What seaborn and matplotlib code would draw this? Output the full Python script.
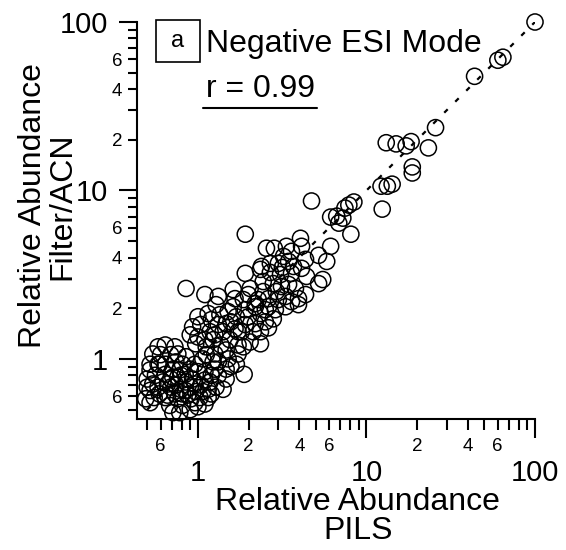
import numpy as np
import pandas as pd
import seaborn as sns
import matplotlib.pyplot as plt
from matplotlib.patches import Rectangle
from matplotlib.lines import Line2D

# relative abundance of each compound, PILS (x) vs Filter/ACN (y)
pils = [100, 60.2, 64.5, 43.8, 25.7, 13.1, 15.0, 17.2, 18.4, 23.3,
        18.7, 18.7, 12.2, 13.3, 14.2, 4.72, 12.4, 8.42, 7.86, 7.45,
        6.13, 6.66, 7.24, 6.85, 8.08, 6.13, 5.20, 5.81, 4.06, 4.12,
        4.35, 4.12, 4.41, 5.50, 1.91, 2.55, 2.84, 3.35, 3.59, 2.38,
        3.00, 2.69, 3.17, 1.91, 2.35, 2.69, 3.09, 3.59, 0.85, 1.62,
        2.04, 2.44, 2.80, 3.13, 3.79, 1.10, 1.32, 1.66, 1.86, 2.28,
        2.62, 3.31, 3.95, 5.20, 1.99, 4.35, 3.95, 2.19, 1.00, 1.15,
        1.28, 1.51, 1.69, 1.91, 2.19, 2.51, 2.88, 3.31, 3.59, 0.93,
        1.04, 1.18, 1.32, 1.47, 1.66, 1.91, 2.19, 2.51, 2.80, 2.35,
        0.90, 1.00, 1.26, 1.81, 2.62, 0.97, 1.10, 1.23, 1.37, 1.55,
        1.73, 2.04, 2.35, 0.58, 0.64, 0.73, 0.54, 0.60, 0.69, 0.76,
        0.52, 0.59, 0.52, 0.50, 0.56, 0.54, 0.64, 0.74, 0.85, 0.96,
        1.12, 1.26, 1.32, 1.51, 1.69, 1.88, 1.07, 1.57, 1.47, 1.26,
        1.10, 0.81, 0.90, 1.00, 0.71, 0.79, 0.66, 0.74, 0.85, 0.96,
        1.10, 1.20, 1.28, 1.15, 0.64, 0.69, 0.78, 1.32, 1.47, 1.41,
        0.49, 0.52, 0.59, 0.64, 0.68, 0.76, 0.81, 0.87, 0.96, 1.03,
        1.10, 0.78, 0.90, 0.71, 0.52, 0.69, 0.79, 0.90, 0.97, 1.07,
        1.20, 0.62, 0.73, 0.84, 0.93, 1.04, 1.18, 0.76, 0.66, 0.58,
        0.91, 0.81, 1.15, 1.00, 0.84, 0.71, 0.58, 0.50, 0.55, 1.41,
        1.57, 1.73, 1.99, 2.13, 1.20, 1.35, 1.62, 2.35, 2.62, 3.00,
        1.86, 1.12, 1.47, 1.23, 1.73, 2.92, 3.45, 3.69, 3.45, 3.22,
        2.44]

filter_acn = [100, 59.3, 61.8, 47.6, 23.6, 19.2, 18.9, 18.4, 19.5, 17.9,
              13.8, 12.7, 10.6, 10.6, 10.9, 8.66, 7.75, 8.54, 8.19, 7.86,
              6.95, 7.04, 6.85, 6.40, 5.50, 4.66, 4.12, 3.79, 5.20, 4.66,
              3.90, 3.45, 3.09, 2.96, 5.50, 4.54, 4.54, 4.66, 4.35, 3.54,
              3.69, 3.69, 3.49, 3.22, 3.40, 3.26, 3.17, 3.22, 2.62, 2.58,
              2.62, 2.88, 2.80, 2.69, 2.62, 2.41, 2.35, 2.28, 2.25, 2.25,
              2.28, 2.35, 2.28, 2.80, 2.41, 2.41, 2.10, 2.13, 1.78, 1.86,
              2.10, 1.91, 1.78, 1.96, 2.04, 1.96, 1.96, 2.04, 2.19, 1.55,
              1.60, 1.45, 1.60, 1.62, 1.51, 1.60, 1.62, 1.66, 1.73, 1.45,
              1.39, 1.35, 1.39, 1.45, 1.53, 1.23, 1.30, 1.30, 1.21, 1.30,
              1.21, 1.26, 1.23, 1.18, 1.21, 1.18, 1.07, 1.06, 1.06, 1.07,
              0.93, 0.93, 0.86, 0.76, 0.80, 0.71, 0.93, 0.96, 1.03, 0.93,
              1.06, 1.07, 0.96, 1.00, 0.93, 0.81, 1.00, 0.90, 0.87, 0.87,
              0.84, 0.93, 0.87, 0.84, 0.78, 0.80, 0.71, 0.70, 0.73, 0.71,
              0.75, 0.80, 0.68, 0.66, 0.81, 0.76, 0.86, 0.80, 0.76, 0.66,
              0.58, 0.55, 0.62, 0.59, 0.53, 0.58, 0.53, 0.61, 0.55, 0.59,
              0.54, 0.48, 0.50, 0.48, 0.65, 0.68, 0.66, 0.68, 0.64, 0.64,
              0.62, 0.73, 0.62, 0.65, 0.76, 0.70, 0.73, 0.78, 0.61, 0.68,
              0.58, 0.62, 0.59, 0.52, 0.81, 0.87, 0.93, 0.68, 0.59, 1.45,
              1.66, 1.45, 1.78, 1.45, 1.71, 1.83, 2.04, 1.86, 2.04, 2.25,
              1.18, 1.18, 1.13, 0.96, 1.07, 2.51, 2.77, 3.54, 3.79, 4.06,
              2.51]

one_to_one = [0.5, 100]
major_ticks = [1, 10, 100]
major_labels = ['1', '10', '100']
minor_ticks = [0.5, 0.6, 0.7, 0.8, 0.9, 2, 3, 4, 5, 6, 7, 8, 9,
               20, 30, 40, 50, 60, 70, 80, 90]
minor_labels = ['', '6', '', '', '', '2', '', '4', '', '6', '', '', '',
                '2', '', '4', '', '6', '', '', '']

df = pd.DataFrame({'PILS': pils, 'Filter/ACN': filter_acn})

sns.set_style('ticks')
plt.rcParams['font.family'] = ['Liberation Sans', 'DejaVu Sans']
plt.rcParams.update({'text.color': 'black', 'axes.labelcolor': 'black',
                     'xtick.color': 'black', 'ytick.color': 'black',
                     'axes.edgecolor': 'black'})

fig = plt.figure(figsize=(5.66, 5.5), dpi=100)
ax = fig.add_axes([137/566, 1 - 419/550, 398/566, 397/550])

sns.scatterplot(data=df, x='PILS', y='Filter/ACN', ax=ax, s=135,
                facecolors='none', edgecolor='black', linewidth=1.1,
                clip_on=False, zorder=3)
ax.plot(one_to_one, one_to_one, color='black', lw=1.6, dashes=(2.2, 4.8), zorder=2)

ax.set_xscale('log')
ax.set_yscale('log')
ax.set_xlim(0.435, 100)
ax.set_ylim(0.44, 100)

for axis in (ax.xaxis, ax.yaxis):
    axis.set_ticks(major_ticks, labels=major_labels)
    axis.set_ticks(minor_ticks, labels=minor_labels, minor=True)

ax.tick_params(axis='x', which='major', length=14, width=1.5, pad=15, labelsize=21)
ax.tick_params(axis='x', which='minor', length=8, width=1.5, pad=6, labelsize=13.5)
ax.tick_params(axis='y', which='major', length=13, width=1.5, pad=8, labelsize=21)
ax.tick_params(axis='y', which='minor', length=6.5, width=1.5, pad=4, labelsize=13.5)

sns.despine(ax=ax)
for side in ('left', 'bottom'):
    ax.spines[side].set_linewidth(1.5)

ax.set_xlabel('Relative Abundance\nPILS', fontsize=23, linespacing=0.95)
ax.xaxis.set_label_coords(0.555, -0.172)
ax.set_ylabel('Relative Abundance\nFilter/ACN', fontsize=23, linespacing=0.95)
ax.yaxis.set_label_coords(-0.151, 0.537)

# panel tag and annotations
fig.add_artist(Rectangle((156/566, 1 - 62/550), 44/566, 42/550, transform=fig.transFigure,
                         fill=False, lw=1.2, edgecolor='black'))
fig.text(178/566, 1 - 41/550, 'a', ha='center', va='center', fontsize=17)
fig.text(206/566, 1 - 52/550, 'Negative ESI Mode', va='baseline', fontsize=23)
fig.text(206/566, 1 - 97/550, 'r = 0.99', va='baseline', fontsize=23)
fig.add_artist(Line2D([203/566, 317/566], [1 - 108/550, 1 - 108/550],
                      transform=fig.transFigure, lw=1.5, color='black'))

fig.savefig('out.png', dpi=100)
